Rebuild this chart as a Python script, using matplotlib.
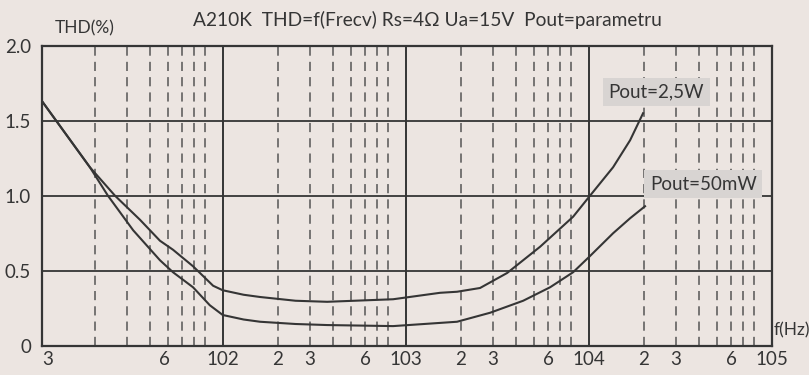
import matplotlib.pyplot as plt
import numpy as np

# THD(%), frequency in Hz
f_25w = [10.3, 18.8, 25.8, 35.3, 45.4, 53.5, 68.8, 88.6, 100, 130, 160, 250, 372, 853, 1540,
         1906, 2546, 3580, 5420, 8210, 10000, 13580, 16820, 19800]
thd_25w = [1.63, 1.19, 1.00, 0.84, 0.70, 0.64, 0.53, 0.40, 0.37, 0.34, 0.325, 0.30, 0.293, 0.31, 0.353,
           0.36, 0.385, 0.485, 0.66, 0.86, 0.99, 1.19, 1.37, 1.55]

f_50mw = [10.3, 18.8, 23.6, 32.4, 45.4, 53.5, 68.8, 85, 100, 130, 160, 250, 372, 853, 1906,
          2890, 4380, 6150, 8210, 10000, 13580, 16820, 20300]
thd_50mw = [1.63, 1.19, 1.00, 0.77, 0.57, 0.49, 0.39, 0.27, 0.205, 0.175, 0.16, 0.145, 0.138, 0.131, 0.16,
            0.22, 0.30, 0.39, 0.49, 0.59, 0.75, 0.85, 0.93]

x_ticks = [11, 48, 100, 200, 300, 600, 1000, 2000, 3000, 6000, 10000, 20000, 30000, 60000, 100000]
x_labels = ["3", "6", "102", "2", "3", "6", "103", "2", "3", "6", "104", "2", "3", "6", "105"]
y_ticks = [0, 0.5, 1.0, 1.5, 2.0]
y_labels = ["0", "0.5", "1.0", "1.5", "2.0"]

decades = [100, 1000, 10000]
grid_mult = [2, 3, 4, 5, 6, 7, 8]

paper = '#ece5e1'
ink = '#353535'

plt.rcParams['font.family'] = ['Lato', 'DejaVu Sans']

fig = plt.figure(figsize=(8.09, 3.75), dpi=100, facecolor=paper)
ax = fig.add_axes([0.052, 0.078, 0.902, 0.800])
ax.set_facecolor(paper)
ax.set_xscale('log')
ax.set_xlim(10.3, 100000)
ax.set_ylim(0, 2.0)

# dashed minor grid (no x9 line in the original)
for d in [10, 100, 1000, 10000]:
    for m in grid_mult:
        ax.axvline(d * m, color='#555555', lw=1.1, ls=(0, (6, 4)), zorder=1)
for d in decades:
    ax.axvline(d, color=ink, lw=1.4, zorder=2)
for yv in [0.5, 1.0, 1.5]:
    ax.axhline(yv, color=ink, lw=1.3, zorder=2)

ax.plot(f_25w, thd_25w, color=ink, lw=1.5, zorder=3)
ax.plot(f_50mw, thd_50mw, color=ink, lw=1.5, zorder=3)

for s in ax.spines.values():
    s.set_color(ink)
    s.set_linewidth(1.6)

ax.set_xticks(x_ticks)
ax.set_xticklabels(x_labels)
ax.minorticks_off()
ax.set_yticks(y_ticks)
ax.set_yticklabels(y_labels)
ax.tick_params(length=0, labelsize=13.5, colors=ink, pad=4)
ax.tick_params(axis='y', pad=8)

box = dict(boxstyle='square,pad=0.3', fc='#d8d4d2', ec='none')
ax.text(23350, 1.69, "Pout=2,5W", ha='center', va='center', fontsize=13.5,
        color=ink, bbox=box, zorder=4)
ax.text(42200, 1.078, "Pout=50mW", ha='center', va='center', fontsize=13.5,
        color=ink, bbox=box, zorder=4)

ax.text(1.002, 0.052, "f(Hz)", transform=ax.transAxes, ha='left', va='center',
        fontsize=12.5, color=ink)
fig.text(0.068, 0.925, "THD(%)", ha='left', va='center', fontsize=12.5, color=ink)
fig.text(0.239, 0.948, "A210K  THD=f(Frecv) Rs=4\u03a9 Ua=15V  Pout=parametru",
         ha='left', va='center', fontsize=13.8, color=ink)

fig.savefig('out.png', dpi=100, facecolor=paper)
